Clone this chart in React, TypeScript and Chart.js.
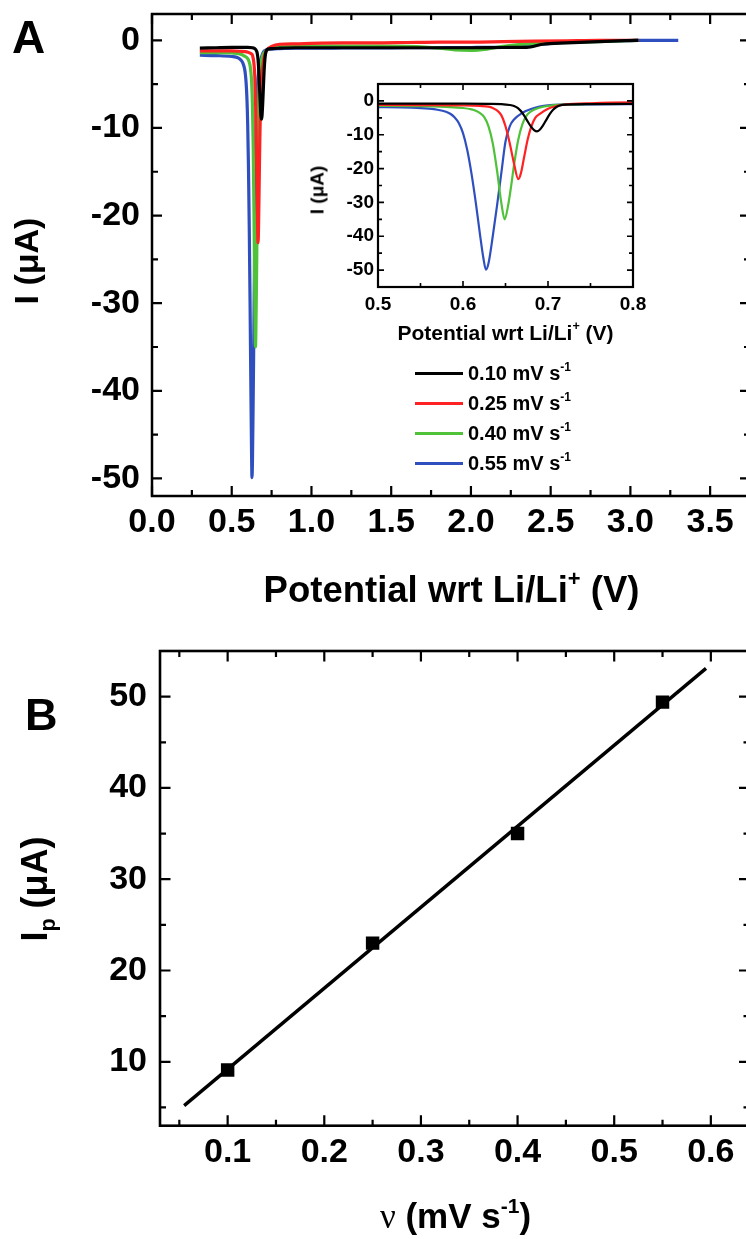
import React, { useEffect, useRef } from 'react';
import { Chart, registerables } from 'chart.js';

Chart.register(...registerables);

// ---------- Panel A data (potential in V, current in µA) ----------
const blackV = [0.30, 0.40, 0.50, 0.55, 0.60, 0.63, 0.645, 0.655, 0.66, 0.665, 0.67, 0.675, 0.68, 0.684, 0.687, 0.69, 0.694, 0.698, 0.702, 0.706, 0.71, 0.715, 0.72, 0.73, 0.75, 0.80, 0.90, 1.00, 1.20, 1.40, 1.60, 1.80, 2.00, 2.20, 2.35, 2.45, 2.60, 2.80, 3.05];
const blackI = [-0.9, -0.85, -0.8, -0.8, -0.8, -0.85, -0.95, -1.2, -1.5, -2.2, -3.6, -5.6, -7.6, -8.7, -9.0, -8.6, -7.3, -5.6, -3.9, -2.6, -1.8, -1.3, -1.1, -1.0, -0.95, -0.9, -0.85, -0.85, -0.85, -0.85, -0.85, -0.85, -0.85, -0.82, -0.8, -0.45, -0.3, -0.15, 0];

const redV = [0.30, 0.40, 0.50, 0.55, 0.60, 0.62, 0.63, 0.635, 0.64, 0.645, 0.65, 0.655, 0.66, 0.665, 0.668, 0.672, 0.676, 0.68, 0.685, 0.69, 0.70, 0.71, 0.72, 0.75, 0.80, 0.90, 1.00, 1.20, 1.40, 1.60, 1.80, 2.00, 2.20, 2.40, 2.60, 2.80, 3.05];
const redI = [-1.2, -1.2, -1.2, -1.25, -1.35, -1.5, -1.7, -2.1, -2.8, -4.2, -7.5, -12.5, -18.5, -23.1, -21.5, -16.5, -11.5, -7.8, -5.0, -3.9, -2.3, -1.5, -1.1, -0.7, -0.45, -0.4, -0.35, -0.3, -0.3, -0.25, -0.2, -0.2, -0.15, -0.1, -0.05, 0, 0];

const greenV = [0.30, 0.40, 0.50, 0.55, 0.58, 0.60, 0.61, 0.615, 0.62, 0.625, 0.63, 0.635, 0.64, 0.645, 0.649, 0.653, 0.657, 0.66, 0.665, 0.67, 0.675, 0.68, 0.69, 0.70, 0.72, 0.75, 0.80, 0.90, 1.00, 1.20, 1.40, 1.60, 1.80, 1.90, 2.00, 2.10, 2.20, 2.30, 2.40, 2.50, 2.60, 2.80, 3.05];
const greenI = [-1.4, -1.4, -1.45, -1.55, -1.8, -2.1, -2.5, -2.9, -3.6, -4.8, -7.5, -12.5, -20.5, -30.0, -35.0, -31.0, -24.5, -19.0, -11.5, -6.8, -4.3, -3.1, -2.0, -1.5, -1.1, -0.9, -0.75, -0.7, -0.65, -0.65, -0.65, -0.7, -0.9, -1.1, -1.15, -1.0, -0.7, -0.5, -0.35, -0.3, -0.25, -0.15, 0];

const blueV = [0.30, 0.40, 0.50, 0.54, 0.56, 0.57, 0.58, 0.585, 0.59, 0.595, 0.60, 0.605, 0.61, 0.615, 0.62, 0.624, 0.627, 0.63, 0.635, 0.64, 0.645, 0.65, 0.655, 0.66, 0.67, 0.68, 0.69, 0.70, 0.72, 0.75, 0.80, 0.90, 1.00, 1.20, 1.40, 1.60, 1.80, 2.00, 2.20, 2.30, 2.40, 2.50, 2.60, 2.80, 3.00, 3.10, 3.20, 3.30];
const blueI = [-1.7, -1.75, -1.85, -2.0, -2.3, -2.6, -3.2, -3.8, -4.8, -6.5, -9.5, -14.5, -21.5, -30.0, -39.5, -46.5, -49.9, -48.0, -40.0, -31.0, -21.5, -12.0, -7.5, -5.5, -3.5, -2.4, -1.7, -1.3, -1.1, -1.0, -0.95, -0.9, -0.9, -0.88, -0.86, -0.85, -0.83, -0.82, -0.8, -0.7, -0.5, -0.35, -0.2, -0.1, -0.03, 0, 0, 0];

const rateLabels = ['0.10', '0.25', '0.40', '0.55'];
const seriesColors = ['#000000', '#ff2222', '#4fc23a', '#2f4fbf'];

// tick marks / tick labels
const aXMajor = [0, 0.5, 1.0, 1.5, 2.0, 2.5, 3.0, 3.5];
const aXMinor = [0.25, 0.75, 1.25, 1.75, 2.25, 2.75, 3.25];
const aYMajor = [-50, -40, -30, -20, -10, 0];
const aYMinor = [-45, -35, -25, -15, -5];
const inXMajor = [0.5, 0.6, 0.7, 0.8];
const inXMinor = [0.55, 0.65, 0.75];
const inYMajor = [-50, -40, -30, -20, -10, 0];
const inYMinor = [-45, -35, -25, -15, -5];

// ---------- Panel B data ----------
const scanRates = [0.1, 0.25, 0.4, 0.55];
const peakCurrents = [9.1, 23.0, 35.0, 49.4];
const fitRates = [0.055, 0.595];
const fitCurrents = [5.2, 53.1];
const bXMajor = [0.1, 0.2, 0.3, 0.4, 0.5, 0.6];
const bXMinor = [0.05, 0.15, 0.25, 0.35, 0.45, 0.55];
const bYMajor = [10, 20, 30, 40, 50];
const bYMinor = [5, 15, 25, 35, 45];

const FONT = '"Liberation Sans", Arial, Helvetica, sans-serif';

const frameTicks = {
  id: 'frameTicks',
  afterDatasetsDraw(chart: any, _args: any, opts: any) {
    const { ctx, chartArea } = chart;
    const { left, right, top, bottom } = chartArea;
    const xs = chart.scales.x;
    const ys = chart.scales.y;
    ctx.save();
    ctx.strokeStyle = '#000';
    ctx.lineWidth = opts.tickWidth;
    ctx.beginPath();
    const xt = (vals: number[], len: number) =>
      vals.forEach((v) => {
        const p = xs.getPixelForValue(v);
        ctx.moveTo(p, bottom);
        ctx.lineTo(p, bottom - len);
        ctx.moveTo(p, top);
        ctx.lineTo(p, top + len);
      });
    const yt = (vals: number[], len: number) =>
      vals.forEach((v) => {
        const p = ys.getPixelForValue(v);
        ctx.moveTo(left, p);
        ctx.lineTo(left + len, p);
        ctx.moveTo(right, p);
        ctx.lineTo(right - len, p);
      });
    xt(opts.xMajor, opts.major);
    xt(opts.xMinor, opts.minor);
    yt(opts.yMajor, opts.major);
    yt(opts.yMinor, opts.minor);
    ctx.stroke();
    ctx.lineWidth = opts.frameWidth;
    ctx.strokeRect(left, top, right - left, bottom - top);
    ctx.restore();
  },
};

const toPts = (xs: number[], ys: number[]) => xs.map((x, i) => ({ x, y: ys[i] }));

function curveDatasets(width: number) {
  const src = [
    [blackV, blackI],
    [redV, redI],
    [greenV, greenI],
    [blueV, blueI],
  ];
  return src.map(([v, i], k) => ({
    label: rateLabels[k],
    data: toPts(v, i),
    borderColor: seriesColors[k],
    backgroundColor: seriesColors[k],
    borderWidth: width,
    pointRadius: 0,
    cubicInterpolationMode: 'monotone',
    borderJoinStyle: 'round',
    fill: false,
  }));
}

// builds a linear axis whose labels sit at the given values, with a fixed thickness
function makeAxis(opts: {
  min: number; max: number; labels: number[]; digits: number; size: number; padding: number; thickness: number; horizontal: boolean;
}) {
  return {
    type: 'linear',
    min: opts.min,
    max: opts.max,
    grid: { display: false, drawTicks: false },
    border: { display: false },
    ticks: {
      color: '#000',
      font: { family: FONT, weight: 'bold', size: opts.size },
      padding: opts.padding,
      autoSkip: false,
      maxRotation: 0,
      minRotation: 0,
      callback: (v: any) => Number(v).toFixed(opts.digits),
    },
    afterBuildTicks: (s: any) => {
      s.ticks = opts.labels.map((value) => ({ value }));
    },
    afterFit: (s: any) => {
      if (opts.horizontal) s.height = opts.thickness;
      else s.width = opts.thickness;
      s.paddingTop = 0;
      s.paddingBottom = 0;
      s.paddingLeft = 0;
      s.paddingRight = 0;
    },
  };
}

function baseOptions(extra: any) {
  return {
    responsive: false,
    animation: false,
    events: [],
    plugins: { legend: { display: false }, tooltip: { enabled: false }, ...extra.plugins },
    layout: extra.layout,
    scales: extra.scales,
  };
}

function useChart(ref: any, make: () => any) {
  useEffect(() => {
    const chart = new Chart(ref.current, make());
    return () => chart.destroy();
  }, []);
}

function Txt({ x, y, size, align = 'left', rotate = false, family = FONT, children }: any) {
  const style: any = {
    position: 'absolute',
    fontFamily: family,
    fontWeight: 'bold',
    fontSize: size,
    lineHeight: `${size}px`,
    whiteSpace: 'nowrap',
    color: '#000',
  };
  if (rotate) {
    style.left = x - 0.3465 * size;
    style.top = y;
    style.transform = 'translate(-50%, -50%) rotate(-90deg)';
  } else {
    style.top = y - 0.8465 * size;
    style.left = x;
    if (align === 'center') style.transform = 'translateX(-50%)';
  }
  return <div style={style}>{children}</div>;
}

const Sup = ({ children }: any) => (
  <span style={{ fontSize: '0.6em', position: 'relative', top: '-0.75em' }}>{children}</span>
);
const Sub = ({ children }: any) => (
  <span style={{ fontSize: '0.6em', position: 'relative', top: '0.35em' }}>{children}</span>
);

export default function App() {
  const mainRef = useRef<HTMLCanvasElement>(null);
  const insetRef = useRef<HTMLCanvasElement>(null);
  const bRef = useRef<HTMLCanvasElement>(null);

  useChart(mainRef, () => ({
    type: 'line',
    data: { datasets: curveDatasets(3.2) },
    options: baseOptions({
      layout: { padding: { left: 0, top: 14, right: 10, bottom: 0 } },
      plugins: {
        frameTicks: { xMajor: aXMajor, xMinor: aXMinor, yMajor: aYMajor, yMinor: aYMinor, major: 10, minor: 6, tickWidth: 2.2, frameWidth: 2.5 },
      },
      scales: {
        x: makeAxis({ min: 0, max: 3.75, labels: aXMajor, digits: 1, size: 34, padding: 6, thickness: 124, horizontal: true }),
        y: makeAxis({ min: -52, max: 3, labels: aYMajor, digits: 0, size: 34, padding: 12, thickness: 152, horizontal: false }),
      },
    }),
    plugins: [frameTicks],
  }));

  useChart(insetRef, () => ({
    type: 'line',
    data: { datasets: curveDatasets(2.2) },
    options: baseOptions({
      layout: { padding: { left: 0, top: 14, right: 17, bottom: 0 } },
      plugins: {
        frameTicks: { xMajor: inXMajor, xMinor: inXMinor, yMajor: inYMajor, yMinor: inYMinor, major: 6, minor: 4, tickWidth: 1.6, frameWidth: 2.2 },
      },
      scales: {
        x: makeAxis({ min: 0.5, max: 0.8, labels: inXMajor, digits: 1, size: 19, padding: 6, thickness: 43, horizontal: true }),
        y: makeAxis({ min: -55, max: 5, labels: inYMajor, digits: 0, size: 19, padding: 4, thickness: 58, horizontal: false }),
      },
    }),
    plugins: [frameTicks],
  }));

  useChart(bRef, () => ({
    type: 'line',
    data: {
      datasets: [
        {
          data: toPts(fitRates, fitCurrents),
          borderColor: '#000',
          borderWidth: 3.4,
          pointRadius: 0,
          fill: false,
        },
        {
          data: toPts(scanRates, peakCurrents),
          showLine: false,
          pointStyle: 'rect',
          pointRadius: 9.5,
          backgroundColor: '#000',
          borderColor: '#000',
          borderWidth: 0,
        },
      ],
    },
    options: baseOptions({
      layout: { padding: { left: 0, top: 31, right: 10.5, bottom: 0 } },
      plugins: {
        frameTicks: { xMajor: bXMajor, xMinor: bXMinor, yMajor: bYMajor, yMinor: bYMinor, major: 10.5, minor: 6, tickWidth: 2.2, frameWidth: 2.6 },
      },
      scales: {
        x: makeAxis({ min: 0.03, max: 0.64, labels: bXMajor, digits: 1, size: 34, padding: 7, thickness: 113.3, horizontal: true }),
        y: makeAxis({ min: 3, max: 55, labels: bYMajor, digits: 0, size: 34, padding: 13, thickness: 160, horizontal: false }),
      },
    }),
    plugins: [frameTicks],
  }));

  return (
    <div style={{ position: 'absolute', left: 0, top: 0, width: 746, height: 1239, overflow: 'hidden', background: '#fff' }}>
      <canvas ref={mainRef} width={760} height={620} style={{ position: 'absolute', left: 0, top: 0, width: 760, height: 620 }} />
      <canvas ref={insetRef} width={330} height={260} style={{ position: 'absolute', left: 320, top: 70, width: 330, height: 260 }} />
      <canvas ref={bRef} width={760} height={619} style={{ position: 'absolute', left: 0, top: 620, width: 760, height: 619 }} />

      {/* Panel A texts */}
      <Txt x={12} y={53} size={46}>A</Txt>
      <Txt x={25.5 + 0.3465 * 34} y={261} size={34} rotate>I (μA)</Txt>
      <Txt x={451.5} y={603} size={36.5} align="center">
        Potential wrt Li/Li<Sup>+</Sup> (V)
      </Txt>
      <Txt x={317.3 + 0.3465 * 19} y={190} size={19} rotate>I (μA)</Txt>
      <Txt x={505.5} y={339.5} size={21} align="center">
        Potential wrt Li/Li<Sup>+</Sup> (V)
      </Txt>

      {/* Legend */}
      {rateLabels.map((lab, k) => (
        <React.Fragment key={lab}>
          <div style={{ position: 'absolute', left: 415, top: 373 + 30 * k - 1.5, width: 48, height: 3, background: seriesColors[k] }} />
          <Txt x={468} y={380 + 30 * k} size={20}>
            {lab} mV s<Sup>-1</Sup>
          </Txt>
        </React.Fragment>
      ))}

      {/* Panel B texts */}
      <Txt x={25} y={730} size={45}>B</Txt>
      <Txt x={36.8 + 0.3465 * 36} y={889} size={36} rotate>
        I<Sub>p</Sub> (μA)
      </Txt>
      <Txt x={455.5} y={1228} size={35} align="center">
        <span style={{ fontFamily: '"Liberation Serif", "DejaVu Serif", serif', fontWeight: 'normal' }}>ν</span> (mV s<Sup>-1</Sup>)
      </Txt>
    </div>
  );
}
